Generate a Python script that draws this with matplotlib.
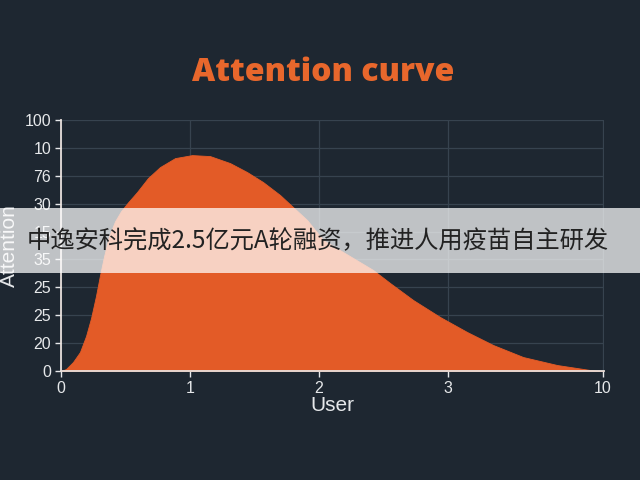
import matplotlib
matplotlib.use("Agg")
import matplotlib.pyplot as plt
from matplotlib.patches import Rectangle

# ---- data ----
user = [0.0, 0.039, 0.093, 0.147, 0.194, 0.233, 0.271, 0.302, 0.333, 0.372,
        0.419, 0.465, 0.520, 0.589, 0.674, 0.767, 0.884, 1.016, 1.155, 1.310,
        1.442, 1.566, 1.698, 1.798, 1.907, 2.031, 2.419, 2.550, 2.729, 2.938,
        3.147, 3.349, 3.581, 3.845, 4.101, 4.202]
attention = [0.0, 0.072, 0.323, 0.681, 1.254, 1.900, 2.688, 3.430, 4.100, 4.830,
             5.370, 5.730, 6.050, 6.416, 6.918, 7.312, 7.634, 7.742, 7.706, 7.455,
             7.133, 6.774, 6.308, 5.878, 5.412, 4.695, 3.620, 3.154, 2.545, 1.935,
             1.398, 0.932, 0.502, 0.215, 0.036, 0.0]
x_tick_pos = [0, 1, 2, 3, 4.2]
x_tick_labels = ["0", "1", "2", "3", "10"]
y_tick_pos = list(range(10))
y_tick_labels = ["0", "20", "25", "25", "35", "15", "30", "76", "10", "100"]
title = "Attention curve"
xlabel = "User"
ylabel = "Attention"
banner_text = "中逸安科完成2.5亿元A轮融资，推进人用疫苗自主研发"

BG = "#1e2731"
ORANGE = "#e35b27"
TXT = "#e6e8ea"
GRID = "#37434f"

fig = plt.figure(figsize=(6.4, 4.8), dpi=100, facecolor=BG)
ax = fig.add_axes([0.0953, 0.227, 0.849, 0.523])
ax.set_facecolor(BG)

ax.fill_between(user, attention, 0, color=ORANGE, linewidth=0.6,
                edgecolor=ORANGE, zorder=2)

ax.set_xlim(0, 4.21)
ax.set_ylim(0, 9)
ax.set_xticks(x_tick_pos)
ax.set_xticklabels(x_tick_labels)
ax.set_yticks(y_tick_pos)
ax.set_yticklabels(y_tick_labels)
ax.grid(True, color=GRID, linewidth=0.9, zorder=0)
ax.set_axisbelow(True)

for s in ["top", "right"]:
    ax.spines[s].set_visible(False)
for s in ["left", "bottom"]:
    ax.spines[s].set_color("#e8e0dc")
    ax.spines[s].set_linewidth(1.3)
    ax.spines[s].set_zorder(3)

ax.tick_params(colors=TXT, labelsize=11.5, length=4, width=1, pad=3)
for lab in ax.get_xticklabels() + ax.get_yticklabels():
    lab.set_color(TXT)
    lab.set_family("Liberation Sans")

ax.set_xlabel(xlabel, color=TXT, fontsize=15, family="Liberation Sans", labelpad=0)
ax.set_ylabel(ylabel, color=TXT, fontsize=15, family="Liberation Sans")
ax.yaxis.set_label_coords(-0.077, 0.5)

fig.text(0.505, 0.848, title, ha="center", va="center", color="#e8672c",
         fontsize=23, fontweight=800, family="Open Sans")

# banner overlay
fig.patches.append(Rectangle((0, (480 - 273) / 480), 1, 65 / 480,
                             transform=fig.transFigure, facecolor="white",
                             alpha=0.72, edgecolor="none", zorder=5))
fig.text(0.497, (480 - 241) / 480, banner_text, ha="center", va="center",
         color="#222222", fontsize=17.5,
         family=["Noto Sans CJK SC", "DejaVu Sans"], zorder=6)

fig.savefig("out.png", dpi=100, facecolor=BG)
